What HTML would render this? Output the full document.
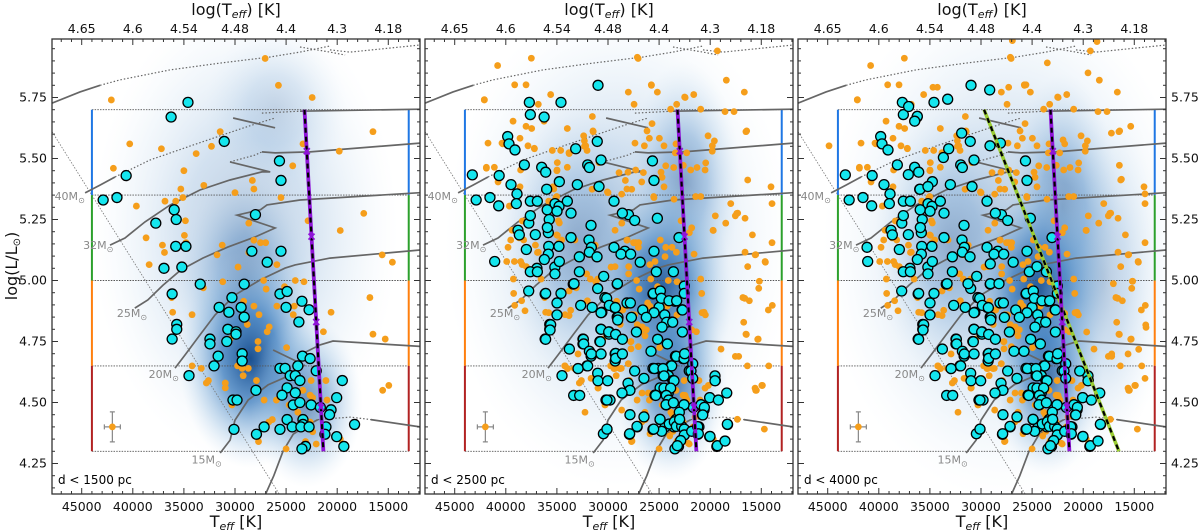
<!DOCTYPE html>
<html><head><meta charset="utf-8"><title>HRD panels</title>
<style>
html,body{margin:0;padding:0;background:#fff;}
svg{display:block;font-family:"DejaVu Sans","Liberation Sans",sans-serif;}
</style></head>
<body>
<svg id="fig" width="1200" height="532" viewBox="0 0 1200 532" xmlns="http://www.w3.org/2000/svg">
<defs>
<radialGradient id="kdeGrad">
<stop offset="0" stop-color="#1a4f8f" stop-opacity="1"/>
<stop offset="0.4" stop-color="#3a7bbd" stop-opacity="0.75"/>
<stop offset="0.75" stop-color="#8db8de" stop-opacity="0.35"/>
<stop offset="1" stop-color="#c6dcf0" stop-opacity="0"/>
</radialGradient>
</defs>
</svg>
<script>
// ---- data (Teff [K], log L/Lsun) ----
const panelLabels = ['d < 1500 pc','d < 2500 pc','d < 4000 pc'];
const bottomTicks = [45000,40000,35000,30000,25000,20000,15000];
const topTickLabels = ['4.65','4.6','4.54','4.48','4.4','4.3','4.18'];
const yTicks = [4.25,4.50,4.75,5.00,5.25,5.50,5.75];
const rangeLevels = [5.70,5.35,5.00,4.65,4.30];
const rangeColors = ['#1f77e4','#2ca02c','#ff7f0e','#b22222'];
const massLabels = ['40','32','25','20','15'];
const massLabelL = [5.33,5.13,4.85,4.60,4.25];
const massLabelT = [44700,41900,38600,35500,31300];
const purpleLineT = [23200,21350];
const purpleLineL = [5.70,4.30];
const greenLineT = [29700,16500];
const greenLineL = [5.70,4.30];
const purpleMarkL = [5.53,5.18,4.83,4.48];

const cyanNear = [[34600,5.73],[36250,5.67],[31050,5.57],[40650,5.43],[25650,5.49],[25500,5.41],[42900,5.33],[41550,5.34],[35950,5.29],[35750,5.25],[37750,5.235],[28000,5.27],[35800,5.14],[34800,5.14],[28350,5.12],[25500,5.12],[26850,5.075],[35200,5.055],[36950,5.05],[33400,4.985],[29100,4.985],[36150,4.945],[30300,4.93],[25600,4.945],[24900,4.955],[25000,4.89],[31550,4.89],[30600,4.87],[29400,4.89],[29100,4.85],[23450,4.915],[22750,4.88],[23750,4.83],[35700,4.82],[35700,4.80],[36150,4.76],[30700,4.80],[29900,4.79],[29900,4.78],[32450,4.76],[32450,4.74],[30800,4.75],[29300,4.70],[29300,4.67],[31650,4.69],[32050,4.65],[34500,4.61],[25600,4.64],[25100,4.64],[23850,4.65],[23400,4.69],[22650,4.68],[22050,4.63],[24600,4.61],[24100,4.61],[23650,4.59],[19500,4.59],[24900,4.56],[25400,4.53],[24100,4.54],[27950,4.55],[30200,4.51],[29800,4.51],[24300,4.49],[23650,4.50],[22550,4.49],[21650,4.48],[20050,4.52],[20600,4.47],[20750,4.45],[24900,4.43],[23350,4.43],[23350,4.41],[24400,4.40],[23550,4.40],[22750,4.40],[25600,4.39],[27150,4.40],[30100,4.39],[27900,4.37],[21100,4.40],[21200,4.37],[20050,4.36],[18300,4.41],[23100,4.32],[23450,4.31],[19350,4.32]];
const cyanMid = [[30976,5.80],[37696,5.73],[37598,5.68],[39816,5.59],[39686,5.56],[39099,5.535],[33162,5.54],[30683,5.494],[43274,5.433],[38185,5.474],[36489,5.464],[36097,5.444],[31988,5.474],[31824,5.463],[39490,5.393],[34760,5.405],[32999,5.393],[35999,5.374],[30878,5.385],[38903,5.355],[38968,5.315],[40697,5.306],[37598,5.325],[36913,5.325],[35184,5.315],[34793,5.304],[34989,5.284],[33977,5.325],[33619,5.276],[29411,5.325],[28595,5.276],[27388,5.246],[25170,5.255],[37598,5.266],[31661,5.226],[38805,5.206],[38675,5.187],[37109,5.188],[35837,5.196],[35934,5.217],[33619,5.176],[31857,5.166],[31628,5.136],[31824,5.116],[35837,5.108],[37990,5.127],[29411,5.136],[28726,5.108],[27780,5.108],[23050,5.176],[41088,5.078],[36228,5.086],[34760,5.078],[32803,5.097],[31074,5.097],
[37600,5.036],[36910,5.036],[35190,5.027],[32800,5.036],[30420,5.017],[25270,5.036],[23600,5.036],[33320,4.987],[29080,4.987],[31010,4.967],[37760,4.957],[36100,4.947],[34600,4.947],[34990,4.908],[30130,4.927],[32670,4.898],[29870,4.898],[29280,4.889],[28140,4.908],[27810,4.908],[25560,4.947],[24880,4.957],[24780,4.927],[24030,4.917],[23280,4.917],[22530,4.977],[22530,4.947],[30680,4.868],[34990,4.859],[29020,4.849],[29050,4.838],[27710,4.849],[26600,4.879],[25500,4.868],[24450,4.859],[24260,4.829],[23670,4.829],[22720,4.879],[26250,4.849],[35610,4.819],[35670,4.797],[36100,4.759],[30680,4.800],[29930,4.789],[29250,4.779],[27220,4.789],[24710,4.809],[22720,4.789],[32410,4.759],[32380,4.740],[30750,4.749],[28590,4.759],[25140,4.759],[24190,4.740],[33780,4.719],[31820,4.710],[31630,4.699],[30680,4.699],[29250,4.701],[29250,4.681],[28590,4.699],[25790,4.710],[23310,4.689],[22560,4.680],[21710,4.659],[22500,4.700],[23770,4.650],[25460,4.639],[24620,4.639],[32930,4.639],[31990,4.650],[31010,4.620],[30980,4.589],[30030,4.589],[28040,4.579],[27390,4.629],[26480,4.599],[24520,4.609],[23540,4.589],[19530,4.609],[19530,4.589],[24520,4.559],[23870,4.559],[21880,4.629],[21710,4.599],[27850,4.550],[28630,4.539],[33360,4.529],[32770,4.529],[30100,4.510],[25330,4.529],[24290,4.529],[24060,4.510],[24320,4.491],[23600,4.499],[22560,4.491],[20900,4.491],[20570,4.480],[20730,4.449],[20050,4.520],[19200,4.510],[18380,4.539],[27850,4.450],[26480,4.441],[27160,4.402],[24910,4.431],[24750,4.382],[24000,4.412],[23510,4.421],[23310,4.402],[23020,4.460],[22790,4.402],[22990,4.431],[25530,4.391],[22530,4.391],[22530,4.367],[22890,4.344],[23210,4.323],[21810,4.382],[21220,4.401],[21160,4.372],[20020,4.361],[19300,4.323],[18550,4.342],[18320,4.411],[27880,4.372],[30450,4.372],[30100,4.391]];
const cyanFar = [[29150,5.781],[33260,5.743],[37080,5.713],[36230,5.673],[36490,5.653],[31890,5.604],[29120,5.552],[28100,5.563],[33680,5.504],[37110,5.434],[35970,5.374],[35190,5.385],[41150,5.136],[29090,5.068],[24520,5.057],[31270,4.987],[28240,4.987],[26770,4.71],[25790,4.71],[20340,4.629]];

const orangeNear = [[27050,5.91],[25750,5.80],[22450,5.75],[42100,5.74],[16500,5.61],[31450,5.61],[40300,5.56],[23350,5.56],[37200,5.54],[32300,5.55],[33800,5.52],[19800,5.53],[41900,5.46],[35000,5.45],[24350,5.47],[33050,5.39],[28300,5.41],[28150,5.375],[35300,5.375],[30000,5.36],[36850,5.325],[35800,5.325],[35100,5.34],[25500,5.34],[39650,5.305],[17400,5.275],[19700,5.205],[22850,5.245],[34850,5.245],[28650,5.235],[38700,5.175],[34950,5.185],[34800,5.155],[37100,5.145],[36900,5.115],[28150,5.165],[27500,5.155],[27000,5.155],[31250,5.145],[31750,5.105],[15600,5.105],[14600,5.075],[28650,5.115],[25900,5.065],[29700,5.055],[38400,5.065],
[33100,4.97],[31200,4.995],[27200,5.00],[24100,5.00],[23250,4.995],[26950,4.965],[25150,4.975],[36200,4.93],[36100,4.87],[34200,4.86],[29150,4.915],[28150,4.895],[24200,4.895],[24300,4.86],[25900,4.895],[27650,4.86],[28800,4.82],[26650,4.81],[26850,4.79],[30500,4.76],[27750,4.75],[27750,4.72],[24950,4.725],[21350,4.79],[20600,4.87],[16800,4.93],[16500,4.78],[15300,4.76],[34200,4.65],[33300,4.64],[32600,4.59],[32800,4.58],[30950,4.58],[30950,4.56],[29750,4.65],[29300,4.64],[28700,4.64],[29200,4.61],[27900,4.59],[23350,4.55],[22550,4.59],[21100,4.59],[22650,4.53],[22400,4.52],[21000,4.51],[27150,4.51],[25950,4.51],[30300,4.49],[24700,4.49],[23850,4.46],[15550,4.55],[14950,4.57],[26700,4.42],[26350,4.43],[22650,4.42],[22400,4.38],[27700,4.34],[23100,4.34],[22050,4.33],[19700,4.35],[25000,4.31]];
const orangeMid = [[37500,5.911],[40800,5.881],[19300,5.941],[27130,5.915],[39130,5.802],[38020,5.802],[42100,5.741],[35610,5.762],[36820,5.722],[28010,5.772],[25170,5.772],[25760,5.802],[22500,5.752],[21610,5.762],[18420,5.821],[16660,5.772],[27450,5.722],[23280,5.722],[23870,5.702],[20930,5.702],[18550,5.692],[17670,5.692],[39290,5.653],[38020,5.632],[37470,5.623],[36260,5.653],[33980,5.623],[31530,5.672],[31470,5.613],[25690,5.643],[26180,5.613],[16430,5.613],[41740,5.563],[40370,5.563],[38610,5.583],[37830,5.552],[37210,5.542],[35450,5.533],[34630,5.533],[33810,5.524],[32380,5.593],[32310,5.572],[32180,5.552],[32050,5.533],[27360,5.563],[26440,5.552],[25950,5.583],[24970,5.583],[24520,5.552],[23410,5.523],[22300,5.523],[20210,5.593],[19590,5.572],[19790,5.552],[41900,5.464],[41120,5.464],[38550,5.453],[34960,5.483],[34990,5.453],[33980,5.464],[30880,5.483],[28920,5.442],[28040,5.444],[27290,5.453],[26540,5.442],[24810,5.444],[24710,5.423],[23570,5.463],[22630,5.472],[21910,5.453],[21290,5.463],[20440,5.482],[20500,5.453],[16330,5.412],[14050,5.384],[40760,5.404],[38610,5.384],[35380,5.384],[35020,5.344],[31560,5.374],[30060,5.363],[28660,5.354],[27680,5.374],[26700,5.404],[24520,5.384],[25530,5.344],[23540,5.333],[21420,5.344],[20930,5.344],[17990,5.315],[13950,5.315],[19500,5.265],[18480,5.235],[17540,5.265],[17310,5.276],[16590,5.255],[19720,5.206],[15870,5.187],[13950,5.155],[16590,5.116],[15550,5.106],[14630,5.078],[16330,5.057],[38380,5.244],[39390,5.206],[39520,5.166],[39780,5.136],[38250,5.166],[36820,5.116],[34760,5.236],[35020,5.187],[34530,5.166],[33230,5.166],[29310,5.206],[28110,5.166],[27290,5.155],[27030,5.136],[24880,5.166],[24350,5.136],[22040,5.196],[21810,5.216],[21580,5.108],[39910,5.078],[39160,5.078],[38540,5.078],[37990,5.057],[29310,5.057],[27970,5.057],[25400,5.078],[24420,5.098],[23730,5.136],[23310,5.116],
[39260,5.006],[36550,5.006],[32090,5.027],[31730,5.006],[31010,5.006],[27980,5.027],[25820,5.006],[20930,5.006],[15190,4.997],[15250,4.968],[16620,4.927],[16170,4.917],[13920,4.898],[14310,4.879],[20830,4.947],[33810,4.957],[39130,4.898],[35800,4.868],[33650,4.878],[33810,4.856],[32020,4.917],[31660,4.889],[28560,4.879],[27390,4.859],[26120,4.908],[26250,4.798],[27130,4.819],[26380,4.773],[23250,4.859],[21810,4.798],[20800,4.868],[20470,4.859],[16720,4.829],[16460,4.779],[15350,4.759],[18940,4.719],[17540,4.689],[17210,4.689],[16360,4.650],[14270,4.650],[34240,4.650],[33950,4.639],[32930,4.699],[29410,4.639],[28820,4.639],[28010,4.659],[27780,4.749],[27030,4.729],[29930,4.599],[31660,4.599],[30980,4.559],[30260,4.491],[32250,4.460],[26670,4.539],[26050,4.539],[22460,4.529],[22270,4.510],[20180,4.570],[20500,4.559],[15610,4.559],[15480,4.550],[14890,4.570],[17340,4.431],[14700,4.391],[21650,4.400],[27650,4.342],[25890,4.372],[23640,4.382],[23960,4.363],[22360,4.361],[23250,4.342],[22140,4.333],[24650,4.490],[23700,4.450],[26380,4.460],[21480,4.441],[28660,4.469],[39230,4.947],[38450,4.917],[38120,4.876]];
const orangeFar = [[26930,5.983],[18650,5.979],[23510,5.892],[19530,5.851],[44870,5.552],[34700,5.792],[34270,5.792],[27290,5.792],[25600,5.802],[17240,5.604],[15350,5.632],[16460,5.472],[16260,5.415],[13950,5.355],[21970,5.576],[21810,5.56],[17050,4.987],[15160,4.997],[13880,4.818],[13850,4.808],[17210,4.699],[14570,4.718],[13950,4.599],[19660,4.789],[21810,4.865],[15610,4.699]];

// evolutionary tracks (Teff, logL) ; style: s=solid, d=dotted
const tracks = [
 {name:'track-60msun', segs:[
   {st:'s',pts:[[47900,5.727],[45170,5.773],[43200,5.800]]},
   {st:'d',pts:[[43200,5.800],[41250,5.822],[36360,5.863],[31470,5.891],[26570,5.916],[23640,5.936],[20700,5.961]]},
   {st:'d',pts:[[23640,5.957],[20700,5.936],[19230,5.924]]},
   {st:'d',pts:[[20700,5.945],[18740,5.936],[11890,5.965]]}]},
 {name:'track-40msun', segs:[
   {st:'s',pts:[[44670,5.359],[43210,5.391],[41740,5.424]]},
   {st:'d',pts:[[41740,5.424],[38320,5.494],[34400,5.551],[30980,5.600],[28040,5.641],[26080,5.666]]},
   {st:'s',pts:[[30190,5.666],[26080,5.626]]},
   {st:'d',pts:[[27370,5.686],[23640,5.694]]},
   {st:'s',pts:[[23640,5.694],[11890,5.702]]}]},
 {name:'track-32msun', segs:[
   {st:'s',pts:[[42230,5.145],[40760,5.174],[38810,5.24],[36360,5.309],[33430,5.371],[30490,5.412],[27370,5.445],[26560,5.445],[30490,5.486]]},
   {st:'d',pts:[[30490,5.486],[28040,5.514],[27370,5.527]]},
   {st:'s',pts:[[27370,5.527],[26080,5.523],[22650,5.527],[11890,5.563]]}]},
 {name:'track-25msun', segs:[
   {st:'s',pts:[[39800,4.887],[38530,4.92],[37060,4.98],[35300,5.043],[33150,5.092],[30700,5.137],[28060,5.178],[26080,5.215],[29790,5.268],[27500,5.29],[26870,5.31],[23640,5.33],[11890,5.36]]}]},
 {name:'track-20msun', segs:[
   {st:'s',pts:[[35870,4.641],[34880,4.695],[33420,4.777],[31950,4.859],[29990,4.941],[27550,5.002],[25100,5.051],[24120,5.064],[20700,5.092],[11890,5.125]]}]},
 {name:'track-15msun', segs:[
   {st:'s',pts:[[31450,4.293],[30480,4.346],[30000,4.428],[28720,4.51],[26770,4.572],[24130,4.621],[23150,4.654]]},
   {st:'s',pts:[[26270,4.715],[23640,4.662]]},
   {st:'s',pts:[[23640,4.695],[21680,4.736],[20410,4.752],[11890,4.73]]}]},
 {name:'track-12msun', segs:[
   {st:'s',pts:[[27050,4.12],[26200,4.2],[25300,4.3],[24300,4.37],[23200,4.40],[21900,4.43]]},
   {st:'d',pts:[[21900,4.43],[18700,4.44],[16700,4.43]]},
   {st:'s',pts:[[16700,4.43],[11890,4.40]]}]}
];

// KDE blobs per panel: [Teff, logL, radiusT, radiusL, opacity]
const kdeBlobs = [
 [[29000,5.2,15000,0.95,0.3],[26000,5.7,7000,0.35,0.18],[29000,5.0,6500,0.45,0.45],[28500,4.68,7000,0.45,1],[23000,4.5,5500,0.35,0.6]],
 [[29000,5.15,17000,1.0,0.3],[33000,5.15,7500,0.55,0.35],[22500,5.4,5500,0.5,0.45],[24800,4.95,7000,0.48,0.95],[23800,4.58,5500,0.4,0.75]],
 [[27500,5.15,18000,1.05,0.3],[33000,5.15,7500,0.55,0.35],[22000,5.3,5500,0.55,0.5],[24300,4.95,7000,0.48,1],[23500,4.6,5500,0.4,0.75],[18000,5.0,6000,0.7,0.22]]
];

// ---- drawing ----
const NS='http://www.w3.org/2000/svg';
const svg=document.getElementById('fig');
const PL=[52,425,798], PW=368, PT=39, PB=494;
function mk(tag,attrs,parent){const e=document.createElementNS(NS,tag);for(const k in attrs)e.setAttribute(k,attrs[k]);(parent||svg).appendChild(e);return e;}
function sxf(p){return T=>PL[p]+29.7+(45000-T)/97.85;}
const sy=L=>97.5+(5.75-L)*244;

for(let p=0;p<3;p++){
  const sx=sxf(p);
  const g=mk('g',{});
  
  
  const clip=mk('clipPath',{id:'clip'+p},svg.querySelector('defs'));
  mk('rect',{x:PL[p],y:PT,width:PW,height:PB-PT},clip);
  const plot=mk('g',{'clip-path':'url(#clip'+p+')'},g);
  
  
  kdeBlobs[p].forEach(b=>{
    const e=mk('ellipse',{cx:sx(b[0]),cy:sy(b[1]),rx:b[2]/97.85,ry:b[3]*244,fill:'url(#kdeGrad)',opacity:b[4]},plot);
    
    
  });
  const z=mk('line',{x1:sx(47900),y1:sy(5.61),x2:sx(25600),y2:sy(4.12),stroke:'#777','stroke-width':0.8,'stroke-dasharray':'1.5,1.5'},plot);
  
  
  rangeLevels.forEach(L=>{
    const l=mk('line',{x1:sx(44000),y1:sy(L),x2:sx(13000),y2:sy(L),stroke:'#555','stroke-width':0.9,'stroke-dasharray':'1.5,1.2'},plot);
    
    
  });
  for(let i=0;i<4;i++){
    [44000,13000].forEach(T=>{
      const v=mk('line',{x1:sx(T),y1:sy(rangeLevels[i]),x2:sx(T),y2:sy(rangeLevels[i+1]),stroke:rangeColors[i],'stroke-width':2},plot);
      
      
    });
  }
  tracks.forEach(tr=>{
    tr.segs.forEach(s=>{
      const d=s.pts.map((q,i)=>(i?'L':'M')+sx(q[0]).toFixed(1)+','+sy(q[1]).toFixed(1)).join('');
      const path=mk('path',{d:d,fill:'none',stroke:'#666','stroke-width':s.st==='s'?1.7:1.2,'stroke-dasharray':s.st==='s'?'none':'1.5,2'},plot);
      
      
    });
  });
  massLabels.forEach((m,i)=>{
    const t=mk('text',{x:sx(massLabelT[i]),y:sy(massLabelL[i]),'font-size':11,fill:'#888','text-anchor':'end'},plot);
    
    
    t.textContent=m+'M';
    const ts=mk('tspan',{'font-size':8,dy:3},t);ts.textContent='⊙';
  });
  const oranges=[orangeNear,orangeMid,orangeFar].slice(0,p+1).flat();
  const cyans=[cyanNear,cyanMid,cyanFar].slice(0,p+1).flat();
  oranges.forEach(q=>{
    const c=mk('circle',{cx:sx(q[0]),cy:sy(q[1]),r:3.4,fill:'#f59e1b'},plot);
    
    
  });
  cyans.forEach(q=>{
    const c=mk('circle',{cx:sx(q[0]),cy:sy(q[1]),r:5,fill:'#15e6ee',stroke:'#000','stroke-width':1.3},plot);
    
    
  });
  if(p===2){
    const gl=mk('line',{x1:sx(greenLineT[0]),y1:sy(greenLineL[0]),x2:sx(greenLineT[1]),y2:sy(greenLineL[1]),stroke:'#9acd32','stroke-width':3.5},plot);
    
    
    const gd=mk('line',{x1:sx(greenLineT[0]),y1:sy(greenLineL[0]),x2:sx(greenLineT[1]),y2:sy(greenLineL[1]),stroke:'#000','stroke-width':2.2,'stroke-dasharray':'5,4'},plot);
    
    
  }
  const pl=mk('line',{x1:sx(purpleLineT[0]),y1:sy(purpleLineL[0]),x2:sx(purpleLineT[1]),y2:sy(purpleLineL[1]),stroke:'#8f14d8','stroke-width':3.8},plot);
  
  
  const pd=mk('line',{x1:sx(purpleLineT[0]),y1:sy(purpleLineL[0]),x2:sx(purpleLineT[1]),y2:sy(purpleLineL[1]),stroke:'#000','stroke-width':2.2,'stroke-dasharray':'5,4'},plot);
  
  
  purpleMarkL.forEach(L=>{
    const f=(purpleLineL[0]-L)/(purpleLineL[0]-purpleLineL[1]);
    const T=purpleLineT[0]+f*(purpleLineT[1]-purpleLineT[0]);
    const x=sx(T),y=sy(L);
    const mkr=mk('path',{d:`M${x-3},${y-3}L${x+3},${y+3}M${x-3},${y+3}L${x+3},${y-3}`,stroke:'#8f14d8','stroke-width':1.8},plot);
    
    
  });
  const ex=sx(42000),ey=sy(4.40);
  const eb=mk('path',{d:`M${ex},${ey-15}V${ey+15}M${ex-8},${ey}H${ex+8}M${ex-2.5},${ey-15}H${ex+2.5}M${ex-2.5},${ey+15}H${ex+2.5}M${ex-8},${ey-2.5}V${ey+2.5}M${ex+8},${ey-2.5}V${ey+2.5}`,stroke:'#888','stroke-width':1.2,fill:'none'},plot);
  
  
  const ec=mk('circle',{cx:ex,cy:ey,r:3.4,fill:'#f59e1b'},plot);
  
  
  const dl=mk('text',{x:PL[p]+6,y:484,'font-size':12,fill:'#000'},g);
  
  
  dl.textContent=panelLabels[p];
  const fr=mk('rect',{x:PL[p],y:PT,width:PW,height:PB-PT,fill:'none',stroke:'#333','stroke-width':1.3},g);
  
  
  for(let T=47000;T>=12000;T-=1000){
    const major=T%5000===0;const x=sx(T);const len=major?6:3;
    const tb=mk('line',{x1:x,y1:PB,x2:x,y2:PB-len,stroke:'#333','stroke-width':1},g);
    
    
    const tt=mk('line',{x1:x,y1:PT,x2:x,y2:PT+len,stroke:'#333','stroke-width':1},g);
    
    
  }
  bottomTicks.forEach((T,i)=>{
    const bl=mk('text',{x:sx(T),y:511,'font-size':12.5,'text-anchor':'middle',fill:'#111'},g);
    
    
    bl.textContent=T;
    const tl=mk('text',{x:sx(T),y:33,'font-size':12.5,'text-anchor':'middle',fill:'#111'},g);
    
    
    tl.textContent=topTickLabels[i];
  });
  for(let k=0;k<=37;k++){
    const L=4.10+k*0.05;const y=sy(L);
    if(y<PT||y>PB)continue;
    const major=Math.abs((L*4)-Math.round(L*4))<1e-6;const len=major?6:3;
    const a=mk('line',{x1:PL[p],y1:y,x2:PL[p]+len,y2:y,stroke:'#333','stroke-width':1},g);
    
    
    const b=mk('line',{x1:PL[p]+PW,y1:y,x2:PL[p]+PW-len,y2:y,stroke:'#333','stroke-width':1},g);
    
    
  }
  const xt=mk('text',{x:PL[p]+PW/2,y:527,'font-size':16,'text-anchor':'middle',fill:'#111'},g);
  
  
  xt.innerHTML='T<tspan font-size="11" font-style="italic" dy="3">eff</tspan><tspan dy="-3"> [K]</tspan>';
  const tx=mk('text',{x:PL[p]+PW/2,y:15,'font-size':16,'text-anchor':'middle',fill:'#111'},g);
  
  
  tx.innerHTML='log(T<tspan font-size="11" font-style="italic" dy="3">eff</tspan><tspan dy="-3">) [K]</tspan>';
}
yTicks.forEach(L=>{
  const a=mk('text',{x:47,y:sy(L)+4,'font-size':12.5,'text-anchor':'end',fill:'#111'});
  
  
  a.textContent=L.toFixed(2);
  const b=mk('text',{x:1171,y:sy(L)+4,'font-size':12.5,'text-anchor':'start',fill:'#111'});
  
  
  b.textContent=L.toFixed(2);
});
const yt=mk('text',{x:0,y:0,'font-size':16,'text-anchor':'middle',fill:'#111',transform:'translate(17,266) rotate(-90)'});


yt.innerHTML='log(L/L<tspan font-size="10" dy="3">⊙</tspan><tspan dy="-3">)</tspan>';
</script>
</body></html>
